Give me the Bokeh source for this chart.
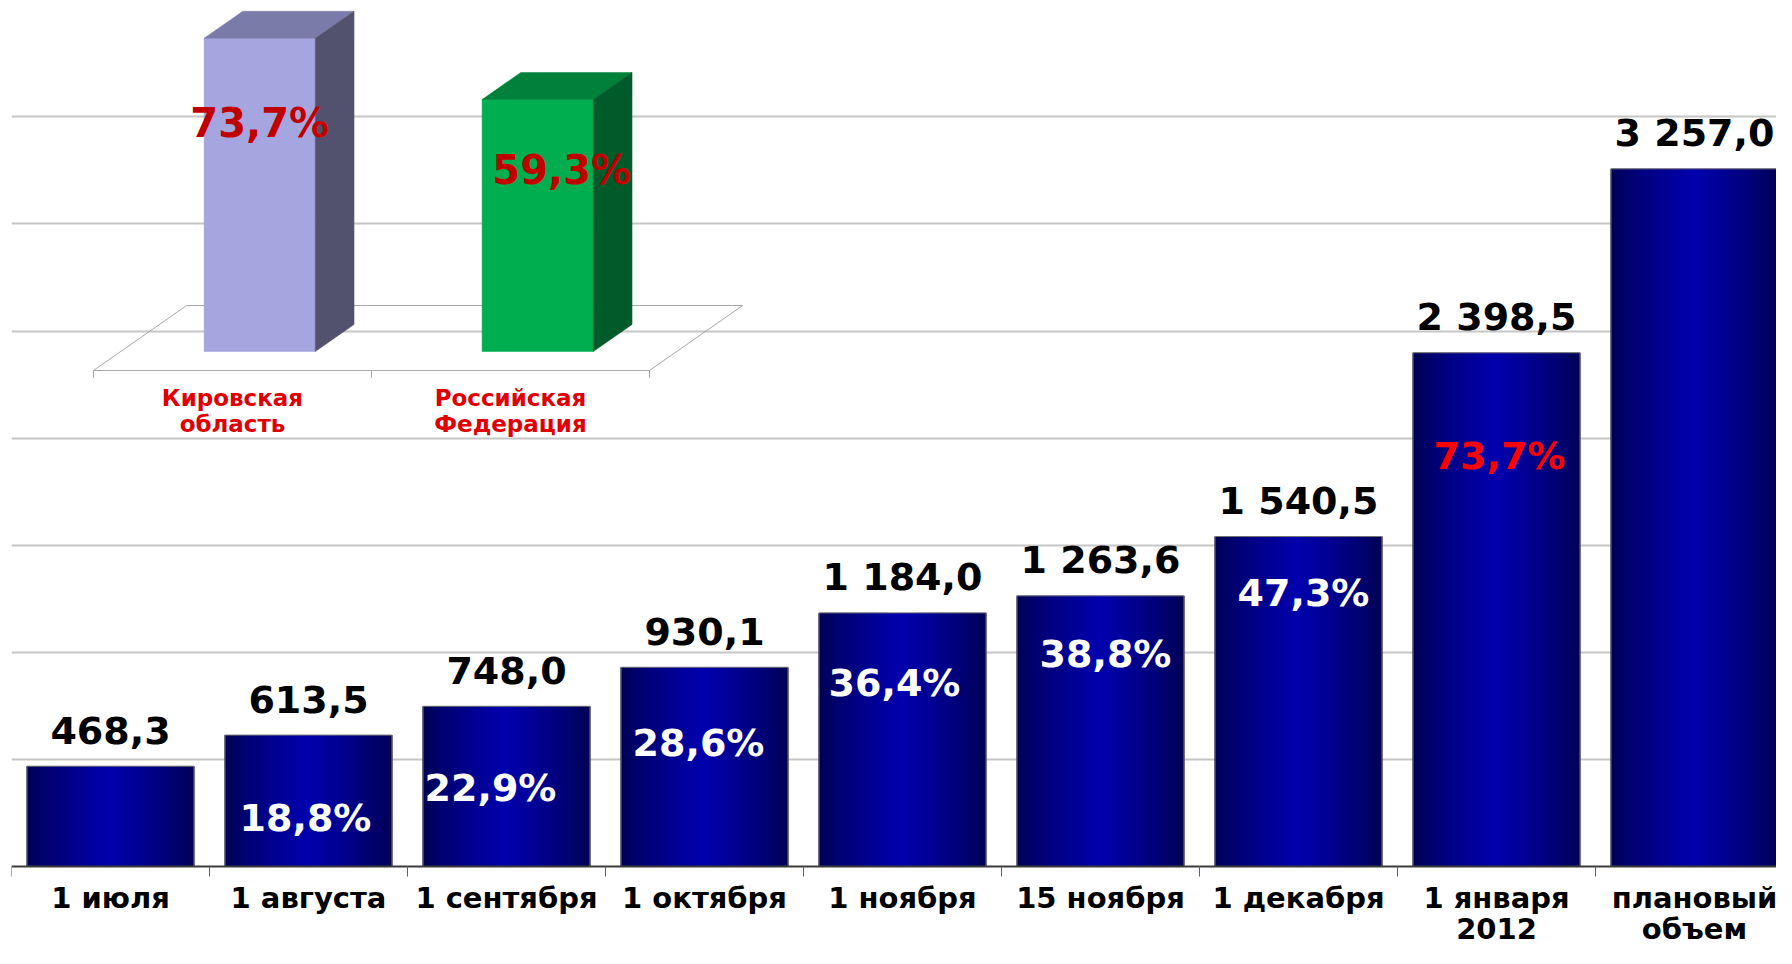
import numpy as np
from bokeh.plotting import figure
from bokeh.models import Range1d, FixedTicker, ColumnDataSource, Grid
from bokeh.core.properties import value
from bokeh.embed import file_html
from bokeh.resources import INLINE

# ---------------- data ----------------
categories = ["1 июля", "1 августа", "1 сентября", "1 октября", "1 ноября",
              "15 ноября", "1 декабря", "1 января\n2012", "плановый\nобъем"]
values = [468.3, 613.5, 748.0, 930.1, 1184.0, 1263.6, 1540.5, 2398.5, 3257.0]
value_labels = ["468,3", "613,5", "748,0", "930,1", "1 184,0", "1 263,6",
                "1 540,5", "2 398,5", "3 257,0"]
pct_labels = ["", "18,8%", "22,9%", "28,6%", "36,4%", "38,8%", "47,3%", "73,7%", ""]
grid_ticks = [500, 1000, 1500, 2000, 2500, 3000, 3500]

inset_categories = ["Кировская\nобласть", "Российская\nФедерация"]
inset_values = [73.7, 59.3]
inset_labels = ["73,7%", "59,3%"]

# ---------------- style / layout ----------------
FONT = "DejaVu Sans"
N = len(categories)
W, H = 1776, 948
LEFT = 11                 # px left of frame
CAT_PX = 198.0            # px per category
PX_PER_UNIT = 0.2142      # vertical scale (px per value unit)
BASE_PX = 866             # baseline distance from top
BAR_W = 0.843
STRIPS = 84
EDGE = np.array([0x00, 0x00, 0x50])
MID = np.array([0x00, 0x00, 0xAE])
pct_dx = [0, -3, -16, -6, -8, 5, 5, 3, 0]        # px nudges of % labels
pct_dy = [0, 83, 82, 76, 70, 58, 56, 103, 0]     # px below bar top
pct_colors = ["white"] * 7 + ["#FF0000", "white"]

y_top = BASE_PX / PX_PER_UNIT
y_bot = -(H - BASE_PX) / PX_PER_UNIT
TICK = 10 / PX_PER_UNIT

p = figure(width=W, height=H,
           x_range=Range1d(0, (W - LEFT) / CAT_PX), y_range=Range1d(y_bot, y_top),
           output_backend="svg", toolbar_location=None,
           x_axis_location=None, y_axis_location=None,
           min_border_left=LEFT, min_border_right=0, min_border_top=0, min_border_bottom=0)
p.outline_line_color = None
p.background_fill_color = "white"
p.border_fill_color = "white"
p.xgrid.visible = False
p.ygrid.visible = False

grid = Grid(dimension=1, ticker=FixedTicker(ticks=grid_ticks),
            grid_line_color="#C6C6C6", grid_line_width=2)
p.add_layout(grid)

# ---------------- gradient bars ----------------
centers = np.arange(N) + 0.5
xs, tops, cols = [], [], []
for i in range(N):
    for k in range(STRIPS):
        s = (k + 0.5) / STRIPS
        t = (1 - abs(2 * s - 1)) ** 0.75
        c = EDGE + (MID - EDGE) * t
        xs.append(centers[i] - BAR_W / 2 + s * BAR_W)
        tops.append(values[i])
        cols.append("#%02x%02x%02x" % tuple(int(round(v)) for v in c))
p.vbar(x=xs, top=tops, width=BAR_W / STRIPS * 1.6, bottom=0,
       fill_color=cols, line_color=None)
p.vbar(x=centers, top=values, width=BAR_W, bottom=0,
       fill_color=None, line_color="#707070", line_width=1)

# category axis: baseline, boundary ticks, labels
p.segment(x0=[0], y0=[0], x1=[N], y1=[0], line_color="#3a3a3a", line_width=2)
bounds = list(range(N + 1))
p.segment(x0=bounds, y0=[0] * len(bounds), x1=bounds, y1=[-TICK] * len(bounds),
          line_color="#606060", line_width=1)
p.text(x=centers, y=[0] * N, text=categories, text_align="center",
       text_baseline="top", y_offset=14, text_line_height=0.94,
       text_font=value(FONT), text_font_style="bold", text_font_size="29px",
       text_color="black")

# value labels
p.text(x=centers, y=values, text=value_labels, text_align="center",
       text_baseline="middle", y_offset=-36,
       text_font=value(FONT), text_font_style="bold", text_font_size="38px",
       text_color="black")

# percentage labels inside bars
src_pct = ColumnDataSource(dict(x=centers, y=values, t=pct_labels,
                                dx=pct_dx, dy=pct_dy, c=pct_colors))
p.text(x="x", y="y", text="t", x_offset="dx", y_offset="dy", source=src_pct,
       text_align="center", text_baseline="middle",
       text_font=value(FONT), text_font_style="bold", text_font_size="38px",
       text_color="c")

# ---------------- inset 3D chart ----------------
IN_X0, IN_CAT = 93.0, 278.0      # px of inset front-left corner, px per inset category
IN_Y0, IN_SCALE = 351.0, 4.25    # px of inset zero line, px per percent
p.extra_x_ranges = {"ix": Range1d((LEFT - IN_X0) / IN_CAT, (W - IN_X0) / IN_CAT)}
p.extra_y_ranges = {"iy": Range1d((IN_Y0 - H) / IN_SCALE, IN_Y0 / IN_SCALE)}
DX, DY, FY0 = 0.335, 15.29, -4.47
D0, D1, HW = 0.292, 0.708, 0.2


def P(u, d, v):
    return (u + d * DX, FY0 + d * DY + v)


def poly(pts):
    return [q[0] for q in pts], [q[1] for q in pts]


# floor
fx, fy = poly([P(0, 0, 0), P(2, 0, 0), P(2, 1, 0), P(0, 1, 0), P(0, 0, 0)])
p.line(fx, fy, x_range_name="ix", y_range_name="iy", line_color="#A8A8A8", line_width=1)
for u in range(3):
    x0, y0 = P(u, 0, 0)
    p.segment(x0=[x0], y0=[y0], x1=[x0], y1=[y0 - 1.7], x_range_name="ix",
              y_range_name="iy", line_color="#A8A8A8", line_width=1)

face_cols = [("#A5A5DF", "#7B7BA9", "#52526F"), ("#00AD4F", "#00813A", "#005A2A")]
for i, v in enumerate(inset_values):
    c = i + 0.5
    front = poly([P(c - HW, D0, 0), P(c + HW, D0, 0), P(c + HW, D0, v), P(c - HW, D0, v)])
    top = poly([P(c - HW, D0, v), P(c + HW, D0, v), P(c + HW, D1, v), P(c - HW, D1, v)])
    side = poly([P(c + HW, D0, 0), P(c + HW, D1, 0), P(c + HW, D1, v), P(c + HW, D0, v)])
    for (px_, py_), col in zip([front, top, side], face_cols[i]):
        p.patch(px_, py_, x_range_name="ix", y_range_name="iy",
                fill_color=col, line_color=col, line_width=0.5)

inset_lbl_x = [P(i + 0.5, D0, 0)[0] for i in range(2)]
p.text(x=inset_lbl_x, y=inset_values, text=inset_labels,
       x_offset=[0, 24], y_offset=[85, 71],
       x_range_name="ix", y_range_name="iy",
       text_align="center", text_baseline="middle",
       text_font=value(FONT), text_font_style="bold", text_font_size="40px",
       text_color="#C00000")

p.text(x=[0.5, 1.5], y=[-13.9, -13.9], text=inset_categories,
       x_range_name="ix", y_range_name="iy",
       text_align="center", text_baseline="middle", text_line_height=1.0,
       text_font=value(FONT), text_font_style="bold", text_font_size="23px",
       text_color="#E00000")

open("out.html", "w").write(file_html(p, INLINE))
